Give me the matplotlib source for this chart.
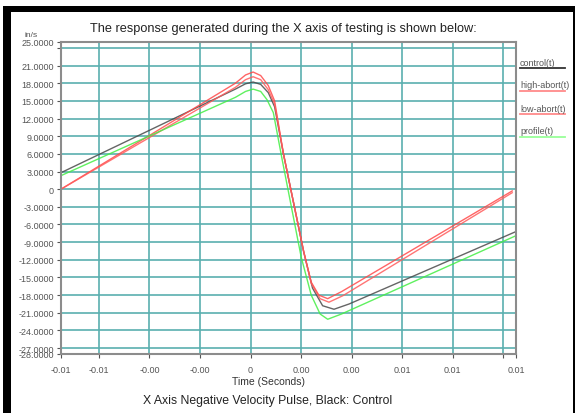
import matplotlib
matplotlib.use('Agg')
import matplotlib.pyplot as plt
import numpy as np

plt.rcParams['font.family'] = ['Liberation Sans Narrow', 'Liberation Sans', 'DejaVu Sans']

# velocity traces, time in ms, velocity in in/s
t_control = [-7.5, -0.6, -0.2, 0.1, 0.4, 0.7, 0.95, 1.3, 2.1, 2.45, 2.85, 3.3, 3.9, 10.5]
v_control = [2.8, 17.0, 17.9, 18.2, 17.8, 16.4, 14.0, 6.0, -10.6, -16.8, -19.8, -20.4, -19.5, -7.2]

t_high = [-7.5, -0.6, -0.2, 0.1, 0.4, 0.7, 0.95, 1.3, 2.1, 2.4, 2.7, 3.05, 3.6, 10.35]
v_high = [0.0, 18.0, 19.4, 19.9, 19.3, 17.6, 15.0, 6.0, -10.6, -15.8, -18.0, -18.6, -17.4, -0.3]

t_low = [-7.5, -0.6, -0.2, 0.1, 0.4, 0.7, 0.95, 1.3, 2.1, 2.4, 2.75, 3.1, 3.65, 10.35]
v_low = [0.0, 17.3, 18.6, 19.1, 18.6, 16.9, 14.5, 6.0, -10.6, -16.0, -18.6, -19.2, -18.1, -0.6]

t_profile = [-7.5, -0.6, -0.2, 0.1, 0.4, 0.65, 0.9, 1.25, 2.0, 2.4, 2.75, 3.05, 3.6, 10.5]
v_profile = [2.3, 15.6, 16.6, 17.0, 16.6, 15.2, 13.0, 5.0, -11.5, -18.0, -21.2, -22.1, -21.2, -7.9]

x_ticks = [-0.0075, -0.006, -0.004, -0.002, 0.0, 0.002, 0.004, 0.006, 0.008, 0.010, 0.0105]
x_tick_labels = ['-0.01', '-0.01', '-0.00', '-0.00', '0', '0.00', '0.00', '0.01', '0.01', '', '0.01']

y_ticks = [-28, -27, -24, -21, -18, -15, -12, -9, -6, -3, 0, 3, 6, 9, 12, 15, 18, 21, 24, 25]
y_tick_labels = ['0' if v == 0 else ('' if v == 24 else '%.4f' % v) for v in y_ticks]

series = [
    ('control(t)', t_control, v_control, '#4a4a4a', '#333333'),
    ('high-abort(t)', t_high, v_high, '#ff4a4a', '#ff8a8a'),
    ('low-abort(t)', t_low, v_low, '#ff5c5c', '#ff8a8a'),
    ('profile(t)', t_profile, v_profile, '#44ee44', '#99ff99'),
]

W, H = 577.0, 414.0
fig = plt.figure(figsize=(W / 100, H / 100), dpi=100)
fig.patch.set_facecolor('white')

# black frame: heavy band left and top, thin line on the right
fig.add_artist(plt.Rectangle((3 / W, 0), 8 / W, 1 - 7 / H, transform=fig.transFigure,
                             facecolor='black', edgecolor='none'))
fig.add_artist(plt.Rectangle((3 / W, 1 - 13 / H), 572 / W, 6 / H, transform=fig.transFigure,
                             facecolor='black', edgecolor='none'))
fig.add_artist(plt.Rectangle((573 / W, 0), 2 / W, 1 - 7 / H, transform=fig.transFigure,
                             facecolor='black', edgecolor='none'))

ax = fig.add_axes([61 / W, 59 / H, 455 / W, 312 / H])

for name, t, v, col, lcol in series:
    ax.plot(np.array(t) / 1000.0, v, color=col, linewidth=1.0, alpha=0.85)

ax.set_xlim(-0.0075, 0.0105)
ax.set_ylim(-28, 25)
ax.set_xticks(x_ticks)
ax.set_xticklabels(x_tick_labels)
ax.set_yticks(y_ticks)
ax.set_yticklabels(y_tick_labels)
ax.grid(True, color='#5aafaf', linewidth=1.2)
ax.set_axisbelow(True)
ax.tick_params(axis='both', labelsize=6.5, colors='#555555', length=3, width=0.8, pad=2)
ax.tick_params(axis='x', pad=5)
for s in ax.spines.values():
    s.set_color('#8c8c8c')
    s.set_linewidth(1.5)

# legend text at the right with coloured underlines
leg_y = [63, 86, 109, 132]
for (name, t, v, col, lcol), yy in zip(series, leg_y):
    fig.text(520 / W, 1 - yy / H, name, fontsize=6.5, color='#555555', va='center', ha='left')
    fig.add_artist(plt.Line2D([520 / W, 565 / W], [1 - (yy + 6) / H] * 2,
                              transform=fig.transFigure, color=lcol, linewidth=1.3))

fig.text(283 / W, 1 - 29 / H, 'The response generated during the X axis of testing is shown below:',
         fontsize=9.2, color='#222222', ha='center', va='center')
fig.text(31 / W, 1 - 36 / H, 'in/s', fontsize=6, color='#555555', ha='center', va='center')
fig.text(268 / W, 1 - 382 / H, 'Time (Seconds)', fontsize=7.5, color='#333333', ha='center', va='center')
fig.text(268 / W, 1 - 401 / H, 'X Axis Negative Velocity Pulse, Black: Control',
         fontsize=8.8, color='#222222', ha='center', va='center')

fig.savefig('out.png', dpi=100)
